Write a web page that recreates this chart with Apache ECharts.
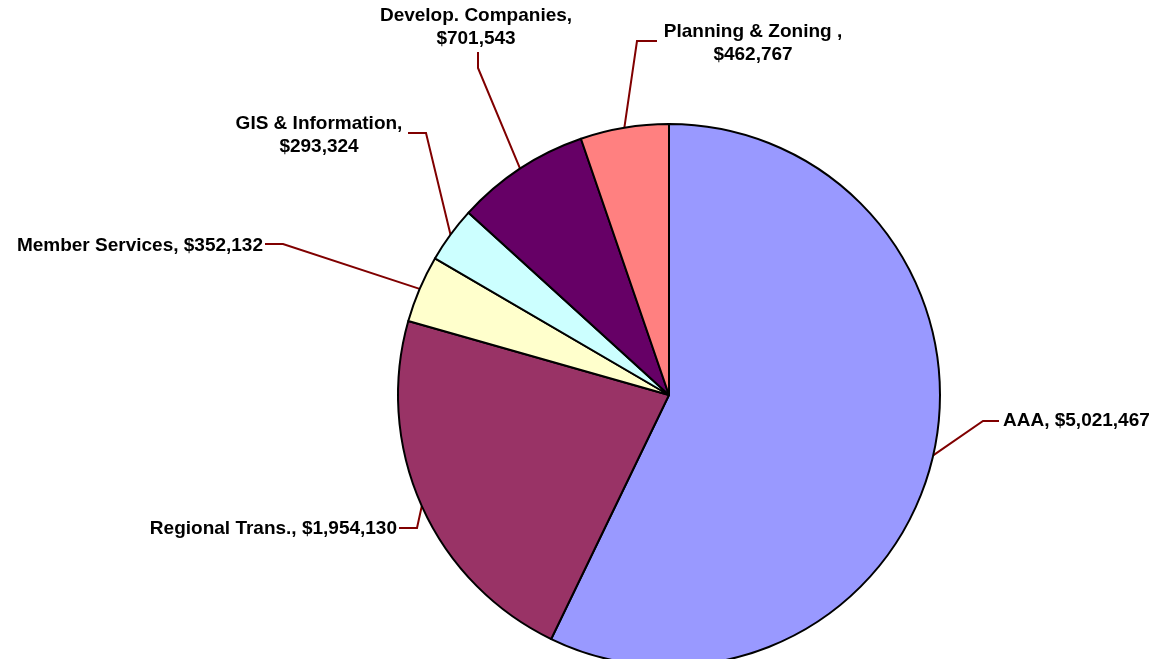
<!DOCTYPE html>
<html>
<head>
<meta charset="utf-8">
<script src="https://cdn.jsdelivr.net/npm/echarts@6/dist/echarts.min.js"></script>
<style>
  html, body { margin: 0; padding: 0; background: #fff; }
  #budget { width: 1155px; height: 659px; }
</style>
</head>
<body>
<div id="budget"></div>
<script>
// slices, clockwise from 12 o'clock
var names = ['AAA', 'Regional Trans.', 'Member Services', 'GIS & Information', 'Develop. Companies', 'Planning & Zoning '];
var amounts = [5021467, 1954130, 352132, 293324, 701543, 462767];
var colors = ['#9999FF', '#993366', '#FFFFCC', '#CCFFFF', '#660066', '#FF8080'];
var twoLine = [false, false, false, true, true, true];

// where each label sits and how its leader line bends (x, y, align, elbow, end)
var labelSpots = [
  { x: 1003, y: 421, align: 'left',   elbow: [983, 421], end: [999, 421] },
  { x: 397,  y: 529, align: 'right',  elbow: [417, 528], end: [399, 528] },
  { x: 263,  y: 246, align: 'right',  elbow: [283, 244], end: [265, 244] },
  { x: 319,  y: 135, align: 'center', elbow: [426, 133], end: [408, 133] },
  { x: 476,  y: 27,  align: 'center', elbow: [478, 68],  end: [478, 52] },
  { x: 753,  y: 43,  align: 'center', elbow: [637, 41],  end: [657, 41] }
];

var dom = document.getElementById('budget');
var myChart = echarts.init(dom);

var pieData = names.map(function (n, i) {
  return { name: n, value: amounts[i], itemStyle: { color: colors[i] } };
});

function money(v) {
  return '$' + v.toLocaleString('en-US');
}

option = {
  backgroundColor: '#ffffff',
  animation: false,
  series: [
    {
      type: 'pie',
      center: [669, 395],
      radius: 271,
      startAngle: 90,
      clockwise: true,
      avoidLabelOverlap: false,
      emphasis: { disabled: true },
      itemStyle: { borderColor: '#000000', borderWidth: 2 },
      label: {
        show: true,
        position: 'outside',
        color: '#000000',
        fontFamily: '"Liberation Sans", Arial, sans-serif',
        fontWeight: 'bold',
        fontSize: 19,
        lineHeight: 23,
        formatter: function (p) {
          return p.name + ',' + (twoLine[p.dataIndex] ? '\n' : ' ') + money(p.value);
        }
      },
      labelLine: {
        show: true,
        length: 20,
        length2: 15,
        lineStyle: { color: '#800000', width: 2 }
      },
      labelLayout: function (p) {
        var s = labelSpots[p.dataIndex];
        var start = p.labelLinePoints ? p.labelLinePoints[0] : s.elbow;
        return {
          x: s.x,
          y: s.y,
          align: s.align,
          verticalAlign: 'middle',
          labelLinePoints: [start, s.elbow, s.end]
        };
      },
      data: pieData
    }
  ]
};

myChart.setOption(option, true);
</script>
</body>
</html>
